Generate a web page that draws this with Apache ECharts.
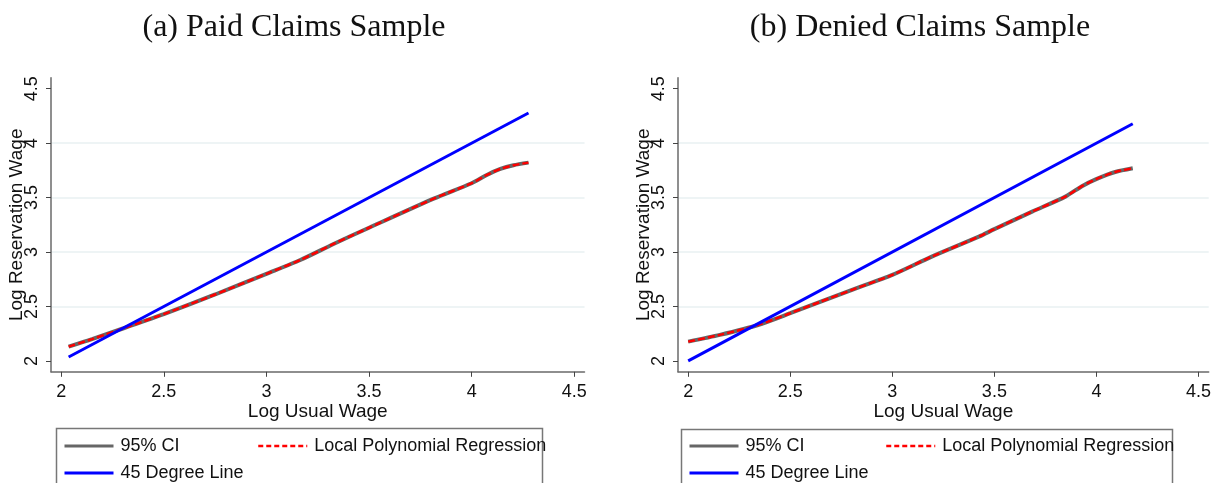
<!DOCTYPE html>
<html>
<head>
<meta charset="utf-8">
<script src="https://cdn.jsdelivr.net/npm/echarts@6/dist/echarts.min.js"></script>
<style>
html,body{margin:0;padding:0;background:#fff;}
#c{width:1214px;height:483px;}
</style>
</head>
<body>
<div id="c"></div>
<script>
// ---- data ----
const panelTitles = ['(a) Paid Claims Sample', '(b) Denied Claims Sample'];
const xTickValues = [2, 2.5, 3, 3.5, 4, 4.5];
const yTickValues = [2, 2.5, 3, 3.5, 4, 4.5];
const seriesNames = ['95% CI', 'Local Polynomial Regression', '45 Degree Line'];

// Panel (a): paid claims
const paidX = [2.036, 2.15, 2.304, 2.5, 2.75, 3.0, 3.165, 3.327, 3.5, 3.815, 4.0, 4.074, 4.14, 4.204, 4.277];
const paidFit = [2.131, 2.2, 2.30, 2.43, 2.61, 2.80, 2.927, 3.074, 3.223, 3.49, 3.632, 3.708, 3.763, 3.797, 3.821];
const paid45X = [2.036, 4.277];
const paid45Y = [2.036, 4.277];

// Panel (b): denied claims
const deniedX = [2.0, 2.155, 2.342, 2.5, 2.643, 2.806, 3.0, 3.196, 3.424, 3.5, 3.685, 3.848, 3.929, 3.999, 4.092, 4.178];
const deniedFit = [2.177, 2.239, 2.33, 2.438, 2.54, 2.655, 2.79, 2.96, 3.141, 3.21, 3.371, 3.509, 3.605, 3.67, 3.735, 3.769];
const denied45X = [2.0, 4.178];
const denied45Y = [2.0, 4.178];

// ---- chart ----
const FONT = '"Liberation Sans", Arial, sans-serif';
const pairs = (xs, ys) => xs.map((x, i) => [x, ys[i]]);

const grids = [
  {left: 51, top: 77.8, width: 533.5, height: 294},
  {left: 678, top: 77.8, width: 532.2, height: 294}
];

function xAxis(i) {
  return {
    type: 'value', gridIndex: i, min: 1.95, max: 4.55, splitNumber: 5,
    name: 'Log Usual Wage', nameLocation: 'middle', nameGap: 30, nameMoveOverlap: false,
    nameTextStyle: {fontFamily: FONT, fontSize: 19, color: '#111'},
    axisLine: {show: true, lineStyle: {color: '#6a6a6a', width: 1.5}},
    axisTick: {show: true, length: 5, lineStyle: {color: '#444'}, customValues: xTickValues},
    axisLabel: {fontFamily: FONT, fontSize: 18, color: '#111', margin: 11, customValues: xTickValues,
      formatter: v => String(v)},
    splitLine: {show: false}
  };
}
function yAxis(i) {
  return {
    type: 'value', gridIndex: i, min: 1.9, max: 4.6, splitNumber: 5,
    name: 'Log Reservation Wage', nameLocation: 'middle', nameGap: 25, nameMoveOverlap: false,
    nameTextStyle: {fontFamily: FONT, fontSize: 19, color: '#111'},
    axisLine: {show: true, lineStyle: {color: '#6a6a6a', width: 1.5}},
    axisTick: {show: true, length: 5, lineStyle: {color: '#444'}, customValues: yTickValues},
    axisLabel: {fontFamily: FONT, fontSize: 18, color: '#111', margin: 10, rotate: 90, customValues: yTickValues,
      formatter: v => String(v)},
    splitLine: {show: true, showMinLine: false, showMaxLine: false, lineStyle: {color: '#e8f0f2', width: 1.5}}
  };
}

function panelSeries(i, xs, fit, lx, ly) {
  return [
    {name: seriesNames[0], type: 'line', xAxisIndex: i, yAxisIndex: i, data: pairs(xs, fit),
     symbol: 'none', smooth: 0.25, lineStyle: {color: '#666666', width: 4}, itemStyle: {color: '#666666'}, z: 2},
    {name: seriesNames[1], type: 'line', xAxisIndex: i, yAxisIndex: i, data: pairs(xs, fit),
     symbol: 'none', smooth: 0.25, lineStyle: {color: '#ff0000', width: 2.5, type: [7, 3]}, itemStyle: {color: '#ff0000'}, z: 3},
    {name: seriesNames[2], type: 'line', xAxisIndex: i, yAxisIndex: i, data: pairs(lx, ly),
     symbol: 'none', lineStyle: {color: '#0000ff', width: 3}, itemStyle: {color: '#0000ff'}, z: 4}
  ];
}

function legendItem(name, left, top, lineStyle) {
  return {
    show: true,
    data: [name], left: left, top: top, orient: 'horizontal', padding: 0,
    selectedMode: false, itemWidth: 49, itemHeight: 14, itemGap: 0,
    lineStyle: lineStyle,
    itemStyle: {opacity: 0},
    textStyle: {fontFamily: FONT, fontSize: 18, color: '#111', padding: [0, 0, 0, 2]}
  };
}

const grayLS = {color: '#666666', width: 3};
const redLS = {color: '#ff0000', width: 2.5, type: [5, 3]};
const blueLS = {color: '#0000ff', width: 3};

const legends = [
  legendItem(seriesNames[0], 63, 437, grayLS),
  legendItem(seriesNames[1], 257, 437, redLS),
  legendItem(seriesNames[2], 63, 464, blueLS),
  legendItem(seriesNames[0], 688, 437, grayLS),
  legendItem(seriesNames[1], 885, 437, redLS),
  legendItem(seriesNames[2], 688, 464, blueLS)
];

const option = {
  backgroundColor: '#ffffff',
  animation: false,
  grid: grids,
  xAxis: [xAxis(0), xAxis(1)],
  yAxis: [yAxis(0), yAxis(1)],
  legend: legends,
  series: [].concat(
    panelSeries(0, paidX, paidFit, paid45X, paid45Y),
    panelSeries(1, deniedX, deniedFit, denied45X, denied45Y)
  ),
  graphic: [
    {type: 'text', x: 294, y: 28, style: {text: panelTitles[0], fontFamily: '"Liberation Serif", "Times New Roman", serif', fontSize: 32, fill: '#111', textAlign: 'center', textVerticalAlign: 'middle'}},
    {type: 'text', x: 920, y: 28, style: {text: panelTitles[1], fontFamily: '"Liberation Serif", "Times New Roman", serif', fontSize: 32, fill: '#111', textAlign: 'center', textVerticalAlign: 'middle'}},
    {type: 'rect', shape: {x: 56.5, y: 428.5, width: 486, height: 70}, style: {fill: 'none', stroke: '#777', lineWidth: 1.5}, z: -1},
    {type: 'rect', shape: {x: 681.5, y: 429.5, width: 491, height: 70}, style: {fill: 'none', stroke: '#777', lineWidth: 1.5}, z: -1}
  ]
};

const chart = echarts.init(document.getElementById('c'), null, {renderer: 'canvas'});
chart.setOption(option);
</script>
</body>
</html>
